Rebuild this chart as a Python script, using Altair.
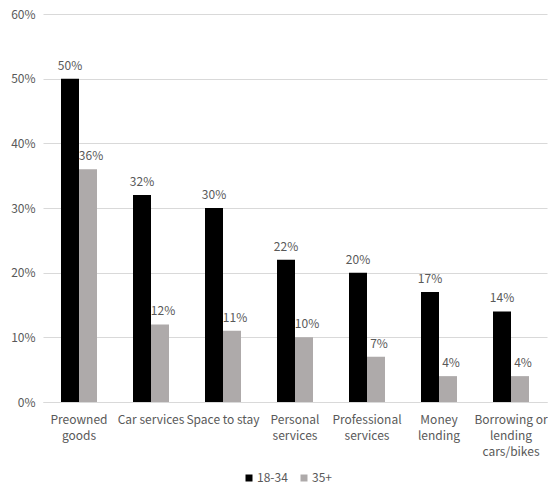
import altair as alt
import pandas as pd

categories = ["Preowned\ngoods", "Car services", "Space to stay", "Personal\nservices",
              "Professional\nservices", "Money\nlending", "Borrowing or\nlending\ncars/bikes"]
series = ["18-34", "35+"]
young = [0.50, 0.32, 0.30, 0.22, 0.20, 0.17, 0.14]
older = [0.36, 0.12, 0.11, 0.10, 0.07, 0.04, 0.04]
colors = ["#000000", "#aeaaaa"]
ticks = [0, 0.1, 0.2, 0.3, 0.4, 0.5, 0.6]

rows = []
for c, a, b in zip(categories, young, older):
    rows.append({"cat": c, "grp": series[0], "val": a})
    rows.append({"cat": c, "grp": series[1], "val": b})
df = pd.DataFrame(rows)

FONT = "Noto Sans CJK KR"
TXT = "#595959"

x = alt.X("cat:N", sort=categories, title=None,
          scale=alt.Scale(paddingInner=0.5, paddingOuter=0.25),
          axis=alt.Axis(labelAngle=0, labelExpr="split(datum.label, '\\n')",
                        labelColor=TXT, labelFont=FONT, labelFontSize=12,
                        labelPadding=12, ticks=False, domainColor="#d9d9d9",
                        labelLineHeight=16, labelBaseline="top", grid=False))
y = alt.Y("val:Q", title=None,
          scale=alt.Scale(domain=[0, 0.6], nice=False),
          axis=alt.Axis(format=".0%", values=ticks, labelOverlap=False,
                        labelColor=TXT, labelFont=FONT, labelFontSize=12,
                        ticks=False, domain=False, gridColor="#d9d9d9", labelPadding=8))
xo = alt.XOffset("grp:N", sort=series)

base = alt.Chart(df)
bars = base.mark_bar().encode(
    x=x, y=y, xOffset=xo,
    color=alt.Color("grp:N", sort=series, scale=alt.Scale(domain=series, range=colors),
                    legend=alt.Legend(title=None, orient="none", legendX=200, legendY=458,
                                      direction="horizontal", symbolType="square",
                                      symbolSize=49, labelFont=FONT, labelFontSize=12,
                                      labelColor=TXT, columnPadding=10, labelOffset=2,
                                      symbolStrokeWidth=0))
)
labels_a = base.transform_filter(alt.datum.grp == series[0]).mark_text(
    dy=-13, font=FONT, fontSize=12, color=TXT).encode(
    x=x, y=y, xOffset=xo, text=alt.Text("val:Q", format=".0%"))
labels_b = base.transform_filter(alt.datum.grp == series[1]).mark_text(
    dy=-13, dx=3, font=FONT, fontSize=12, color=TXT).encode(
    x=x, y=y, xOffset=xo, text=alt.Text("val:Q", format=".0%"))

chart = alt.layer(bars, labels_a, labels_b).properties(
    width=504, height=388, padding={"left": 2, "top": 0, "right": 0, "bottom": 0}
).configure_view(stroke=None)

chart.save("out.html", embed_options={"renderer": "svg", "actions": False})
